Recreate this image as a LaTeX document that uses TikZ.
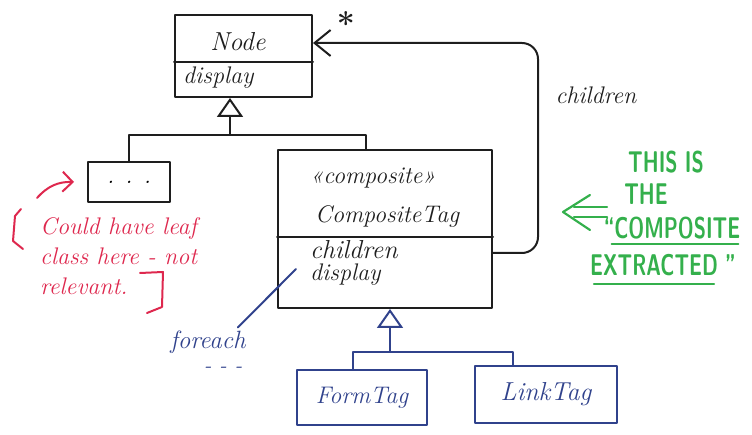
\documentclass[tikz,border=0pt]{standalone}
\usepackage{fontspec}
\usepackage{graphicx}
\usetikzlibrary{arrows.meta,calc}
\definecolor{ink}{RGB}{30,30,30}
\definecolor{redink}{RGB}{222,40,78}
\definecolor{greenink}{RGB}{52,176,76}
\definecolor{blueink}{RGB}{48,66,140}
\newcommand{\handf}[1]{\itshape\fontsize{#1}{#1}\selectfont}
\tikzset{
  pen/.style  ={draw=ink, line width=2pt, line cap=round, line join=round},
  rpen/.style ={pen, draw=redink},
  gpen/.style ={pen, draw=greenink, line width=2.2pt},
  bpen/.style ={pen, draw=blueink},
  cls/.style  ={pen, rectangle, inner sep=0pt},
  bcls/.style ={cls, draw=blueink, text=blueink, font=\handf{24}},
  gen/.style  ={-{Triangle[open,length=19pt,width=26pt]}},
  has/.style  ={-{Straight Barb[length=16pt,width=26pt]}},
  txt/.style  ={inner sep=0pt, text=ink, font=\handf{24}},
  rtxt/.style ={txt, text=redink},
  btxt/.style ={txt, text=blueink},
  gtxt/.style ={inner sep=0pt, text=greenink, font=\sffamily\bfseries\fontsize{20}{20}\selectfont},
}
\begin{document}
\begin{tikzpicture}[x=1pt,y=-1pt]
\useasboundingbox (0,0) rectangle (752,435);
% Node class
\node[cls, minimum width=137pt, minimum height=82pt] (nodecls) at (243.5,56) {};
\draw[pen] ($(nodecls.west)+(0,6)$) -- ($(nodecls.east)+(0,6)$);
\node[txt, font=\handf{26}] (nodename) at (238,42) {Node};
\node[txt, anchor=west] (nodedisp) at (183,78) {display};
\node[txt, font=\bfseries\fontsize{32}{32}\selectfont] (mult) at (346,24) {*};

% leaf class
\node[cls, minimum width=82pt, minimum height=40pt, font=\handf{24}] (leaf) at (129,182) {. . .};

% composite class
\node[cls, minimum width=214pt, minimum height=158pt] (ctag) at (385,229) {};
\draw[pen] ($(ctag.west)+(0,8)$) -- ($(ctag.east)+(0,8)$);
\node[txt, anchor=west] (cstereo) at (310,178) {«composite»};
\node[txt, anchor=west] (cname) at (315,217) {CompositeTag};
\node[txt, anchor=west, font=\handf{26}] (cchild) at (310,250) {children};
\node[txt, anchor=west] (cdisp) at (310,275) {display};

% subclasses
\node[bcls, minimum width=130pt, minimum height=55pt] (ftag) at (362,397.5) {FormTag};
\node[bcls, minimum width=142pt, minimum height=57pt, font=\handf{26}] (ltag) at (546,394.5) {LinkTag};

% inheritance from Node
\coordinate (njoin) at (230,135);
\draw[pen] (leaf.north) |- (njoin) -| ([xshift=-19pt]ctag.north);
\draw[pen, gen] (njoin) -- (nodecls.south -| njoin);

% children aggregation
\coordinate (cturn) at (538,253);
\coordinate (ctop) at (538,43);
\draw[pen, has, rounded corners=16pt] ([yshift=-24pt]ctag.east) -- (cturn) -- (ctop) -- ([yshift=13pt]nodecls.east);
\node[txt] (lchild) at (596,95) {children};

% inheritance from CompositeTag
\coordinate (sjoin) at (390,352);
\draw[bpen] ([xshift=-9pt]ftag.north) |- (sjoin) -| ([xshift=-33pt]ltag.north);
\draw[bpen, gen] (sjoin) -- (ctag.south -| sjoin);

% foreach note
\node[btxt, font=\handf{25}] (lfor) at (208,342) {foreach};
\node[btxt, font=\handf{22}] (ldots) at (223,370) {- - -};
\draw[bpen] ([shift={(-8pt,3pt)}]lfor.north east) -- ([shift={(-14pt,6pt)}]cdisp.west);

% red remark
\node[rtxt, align=left, anchor=north west, font=\itshape\fontsize{24}{30}\selectfont] (rnote) at (40,217)
  {Could have leaf\\class here - not\\relevant.};
\draw[rpen] (21,209) -- (15,216) -- (13,241) -- (23,249);
\draw[rpen] (140,273) -- (163,272) -- (162,307) -- (147,313);
\coordinate (rtail) at (37,198);
\draw[rpen, -{Straight Barb[length=10pt,width=20pt]}] (rtail) to[bend left=25] ([xshift=-13pt]leaf.west);

% green remark
\node[gtxt] (g1) at (666,162) {\scalebox{1}[1.5]{THIS IS}};
\node[gtxt] (g2) at (646,194) {\scalebox{1}[1.5]{THE}};
\node[gtxt] (g3) at (672,228) {\scalebox{1}[1.5]{“COMPOSITE}};
\node[gtxt] (g4) at (663,265) {\scalebox{1}[1.5]{EXTRACTED ”}};
\draw[gpen] ([shift={(8pt,-5pt)}]g3.south west) -- ([shift={(-2pt,-5pt)}]g3.south east);
\draw[gpen] ([shift={(4pt,-8pt)}]g4.south west) -- ([shift={(-22pt,-8pt)}]g4.south east);
\draw[gpen] (607,207) -- (574,207) (607,217) -- (574,217);
\draw[gpen] (590,195) -- (563,212) -- (590,230);
\end{tikzpicture}
\end{document}
